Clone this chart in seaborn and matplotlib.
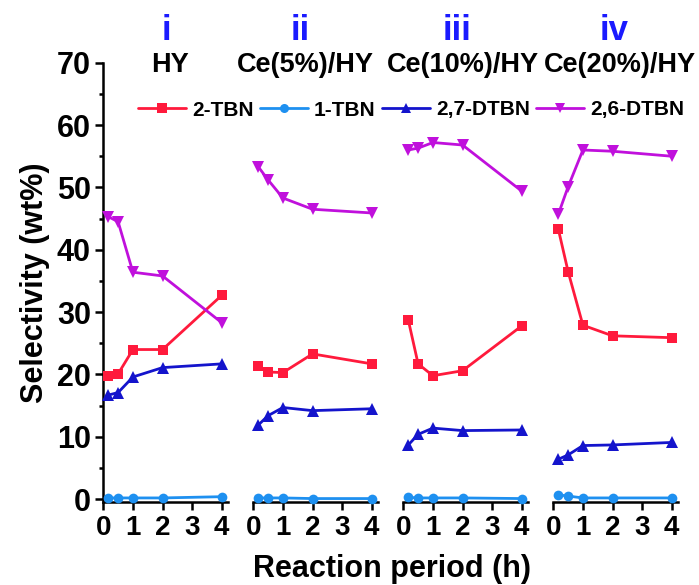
import numpy as np
import pandas as pd
import matplotlib
matplotlib.use("Agg")
import matplotlib.pyplot as plt
from matplotlib.lines import Line2D
from matplotlib.ticker import MultipleLocator
from matplotlib import font_manager as fm
import seaborn as sns

# Reaction time points (h)
hours = [0.17, 0.5, 1, 2, 4]

catalysts = ["HY", "Ce(5%)/HY", "Ce(10%)/HY", "Ce(20%)/HY"]
numerals = ["i", "ii", "iii", "iv"]
products = ["2-TBN", "1-TBN", "2,7-DTBN", "2,6-DTBN"]

# Selectivity (wt%) per catalyst
tbn2_hy = [19.8, 20.1, 24.0, 24.0, 32.7]
tbn1_hy = [0.2, 0.2, 0.2, 0.2, 0.4]
dtbn27_hy = [16.7, 17.1, 19.6, 21.1, 21.7]
dtbn26_hy = [45.3, 44.5, 36.4, 35.8, 28.3]

tbn2_ce5 = [21.4, 20.4, 20.3, 23.3, 21.7]
tbn1_ce5 = [0.2, 0.2, 0.2, 0.1, 0.1]
dtbn27_ce5 = [11.9, 13.4, 14.7, 14.2, 14.5]
dtbn26_ce5 = [53.3, 51.2, 48.3, 46.5, 45.9]

tbn2_ce10 = [28.7, 21.7, 19.8, 20.6, 27.8]
tbn1_ce10 = [0.3, 0.2, 0.2, 0.2, 0.1]
dtbn27_ce10 = [8.7, 10.4, 11.4, 11.0, 11.1]
dtbn26_ce10 = [56.0, 56.3, 57.2, 56.8, 49.4]

tbn2_ce20 = [43.3, 36.5, 27.9, 26.2, 25.9]
tbn1_ce20 = [0.7, 0.5, 0.2, 0.2, 0.2]
dtbn27_ce20 = [6.4, 7.1, 8.6, 8.7, 9.1]
dtbn26_ce20 = [45.7, 50.1, 56.0, 55.8, 55.0]

series = {
    "HY": [tbn2_hy, tbn1_hy, dtbn27_hy, dtbn26_hy],
    "Ce(5%)/HY": [tbn2_ce5, tbn1_ce5, dtbn27_ce5, dtbn26_ce5],
    "Ce(10%)/HY": [tbn2_ce10, tbn1_ce10, dtbn27_ce10, dtbn26_ce10],
    "Ce(20%)/HY": [tbn2_ce20, tbn1_ce20, dtbn27_ce20, dtbn26_ce20],
}

rows = []
for cat in catalysts:
    for prod, vals in zip(products, series[cat]):
        for h, v in zip(hours, vals):
            rows.append({"catalyst": cat, "product": prod, "time": h, "sel": v})
df = pd.DataFrame(rows)

palette = {"2-TBN": "#FF1A3C", "1-TBN": "#1E90F0",
           "2,7-DTBN": "#1414CC", "2,6-DTBN": "#C010DC"}
markers = {"2-TBN": "s", "1-TBN": "o", "2,7-DTBN": "^", "2,6-DTBN": "v"}
msizes = {"2-TBN": 7, "1-TBN": 7, "2,7-DTBN": 8, "2,6-DTBN": 8}

sns.set_theme(style="ticks")
plt.rcParams["font.family"] = ["Liberation Sans", "DejaVu Sans"]
plt.rcParams["font.weight"] = "bold"
for key in ["text.color", "axes.labelcolor", "xtick.color", "ytick.color",
            "axes.edgecolor"]:
    plt.rcParams[key] = "black"

# Narrow face for the condensed headings, if it is available
try:
    fm.findfont(fm.FontProperties(family="Liberation Sans Narrow",
                                  weight="bold"),
                fallback_to_default=False)
    narrow = ["Liberation Sans Narrow", "Liberation Sans"]
    title_size, legend_size = 23, 17
except Exception:
    narrow = ["Liberation Sans"]
    title_size, legend_size = 19.5, 15

W, H = 699, 585
fig = plt.figure(figsize=(W / 100, H / 100), dpi=100)

ax_left_px = 103.3
ax_w_px = 125
ax_step_px = 150
ax_top_px, ax_bot_px = 62.7, 502.3

title_x = [170, 305, 463, 620]
numeral_x = [166, 300, 457, 614]

for i, cat in enumerate(catalysts):
    left = (ax_left_px + i * ax_step_px) / W
    ax = fig.add_axes([left, 1 - ax_bot_px / H, ax_w_px / W,
                       (ax_bot_px - ax_top_px) / H])
    sub = df[df["catalyst"] == cat]
    for prod in products:
        d = sub[sub["product"] == prod]
        sns.lineplot(data=d, x="time", y="sel", color=palette[prod],
                     marker=markers[prod], markersize=msizes[prod],
                     markeredgewidth=0, linewidth=2.0, clip_on=False,
                     ax=ax, legend=False, zorder=3)
    ax.set_xlim(0, 4.22)
    ax.set_ylim(-0.5, 70)
    ax.set_xticks([0, 1, 2, 3, 4])
    ax.set_xlabel("")
    ax.set_ylabel("")
    ax.tick_params(axis="x", length=6, width=1.8, pad=3, labelsize=20,
                   direction="out")
    for lab in ax.get_xticklabels():
        lab.set_fontweight("bold")
    for s in ["top", "right"]:
        ax.spines[s].set_visible(False)
    ax.spines["bottom"].set_linewidth(1.8)
    if i == 0:
        ax.spines["left"].set_linewidth(1.8)
        ax.yaxis.set_major_locator(MultipleLocator(10))
        ax.yaxis.set_minor_locator(MultipleLocator(5))
        ax.tick_params(axis="y", which="major", length=6, width=1.8, pad=3,
                       labelsize=22)
        ax.tick_params(axis="y", which="minor", length=3, width=1.8)
        for lab in ax.get_yticklabels():
            lab.set_fontweight("bold")
        ax.set_ylabel("Selectivity (wt%)", fontsize=22, fontweight="bold",
                      labelpad=5)
    else:
        ax.spines["left"].set_visible(False)
        ax.tick_params(axis="y", left=False, labelleft=False, which="both")
    ax.patch.set_alpha(0)

    fig.text(numeral_x[i] / W, 1 - 40 / H, numerals[i], color="#1a1aff",
             fontsize=25, fontweight="bold", ha="center", va="baseline")
    fig.text(title_x[i] / W, 1 - 72 / H, cat, color="black",
             fontsize=title_size, fontweight="bold", family=narrow,
             ha="center", va="baseline")

fig.text(392 / W, 1 - 577 / H, "Reaction period (h)", fontsize=22,
         fontweight="bold", ha="center", va="baseline")

handles = [Line2D([0], [0], color=palette[p], marker=markers[p],
                  markersize=6.5, markeredgewidth=0, linewidth=2.0)
           for p in products]
leg = fig.legend(handles, products, ncol=4, loc="center left",
                 bbox_to_anchor=(138 / W, 1 - 110 / H), frameon=False,
                 handlelength=2.3, handletextpad=0.3, columnspacing=0.3,
                 borderaxespad=0, borderpad=0,
                 prop={"size": legend_size, "weight": "bold",
                       "family": narrow})

fig.savefig("out.png", dpi=100)
